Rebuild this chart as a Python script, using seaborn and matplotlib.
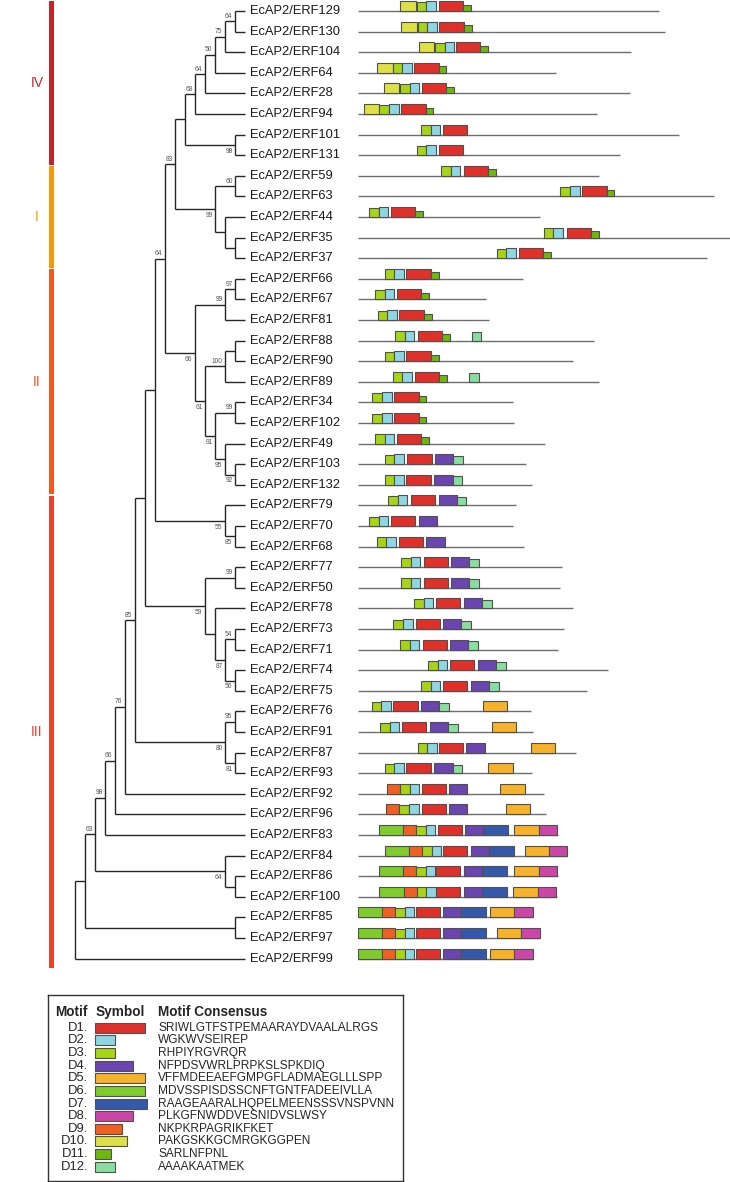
import numpy as np
import matplotlib
matplotlib.use('Agg')
import matplotlib.pyplot as plt
from matplotlib.patches import Rectangle
import seaborn as sns

sns.set_theme(style='white')
plt.rcParams['font.family'] = ['Liberation Sans', 'DejaVu Sans']

# motif definitions (legend)
MOTIFS = ['D1', 'D2', 'D3', 'D4', 'D5', 'D6', 'D7', 'D8', 'D9', 'D10', 'D11', 'D12']
CONSENSUS = ['SRIWLGTFSTPEMAARAYDVAALALRGS', 'WGKWVSEIREP', 'RHPIYRGVRQR',
             'NFPDSVWRLPRPKSLSPKDIQ', 'VFFMDEEAEFGMPGFLADMAEGLLLSPP',
             'MDVSSPISDSSCNFTGNTFADEEIVLLA', 'RAAGEAARALHQPELMEENSSSVNSPVNN',
             'PLKGFNWDDVESNIDVSLWSY', 'NKPKRPAGRIKFKET', 'PAKGSKKGCMRGKGGPEN',
             'SARLNFPNL', 'AAAAKAATMEK']
MOTIF_COLORS = ['#E0302A', '#8FD6E3', '#A6D416', '#6B45B0', '#F5B22A', '#7FCB2B',
                '#3559AA', '#CC46A7', '#F06020', '#DDE146', '#6CB80C', '#88DE9E']
# relative box height (significance) in the motif panel
MOTIF_HEIGHT = [1, 1, 0.95, 1, 1, 1, 1, 1, 1, 1, 0.65, 0.85]

# genes in tree order, protein length (aa) and motif start positions (aa)
GENES = ['129', '130', '104', '64', '28', '94', '101', '131', '59', '63', '44', '35', '37',
         '66', '67', '81', '88', '90', '89', '34', '102', '49', '103', '132',
         '79', '70', '68', '77', '50', '78', '73', '71', '74', '75', '76', '91', '87', '93',
         '92', '96', '83', '84', '86', '100', '85', '97', '99']
PROT_LEN = [346, 353, 314, 228, 313, 275, 369, 302, 277, 410, 209, 432, 401,
            190, 148, 151, 272, 247, 277, 179, 180, 215, 193, 200,
            182, 178, 191, 235, 232, 248, 237, 230, 288, 264, 199, 201, 251, 200,
            214, 216, 230, 241, 230, 229, 202, 210, 202]
HITS = [
    'D10:49 D3:68 D2:79 D1:93 D11:121',
    'D10:50 D3:69 D2:80 D1:94 D11:122',
    'D10:70 D3:89 D2:100 D1:113 D11:141',
    'D10:22 D3:40 D2:51 D1:65 D11:93',
    'D10:30 D3:49 D2:60 D1:74 D11:102',
    'D10:7 D3:25 D2:36 D1:50 D11:78',
    'D3:73 D2:84 D1:98',
    'D3:68 D2:79 D1:93',
    'D3:96 D2:107 D1:122 D11:150',
    'D3:233 D2:244 D1:258 D11:286',
    'D3:13 D2:24 D1:38 D11:66',
    'D3:214 D2:225 D1:240 D11:268',
    'D3:160 D2:171 D1:185 D11:213',
    'D3:31 D2:42 D1:56 D11:84',
    'D3:20 D2:31 D1:45 D11:73',
    'D3:23 D2:34 D1:48 D11:76',
    'D3:43 D2:54 D1:69 D11:97 D12:131',
    'D3:31 D2:42 D1:56 D11:84',
    'D3:40 D2:51 D1:66 D11:94 D12:128',
    'D3:17 D2:28 D1:42 D11:70',
    'D3:17 D2:28 D1:42 D11:70',
    'D3:20 D2:31 D1:45 D11:73',
    'D3:31 D2:42 D1:57 D4:89 D12:110',
    'D3:31 D2:42 D1:56 D4:88 D12:109',
    'D3:35 D2:46 D1:61 D4:93 D12:114',
    'D3:13 D2:24 D1:38 D4:70',
    'D3:22 D2:33 D1:47 D4:79',
    'D3:50 D2:61 D1:76 D4:107 D12:128',
    'D3:50 D2:61 D1:76 D4:107 D12:128',
    'D3:65 D2:76 D1:90 D4:122 D12:143',
    'D3:41 D2:52 D1:67 D4:98 D12:119',
    'D3:49 D2:60 D1:75 D4:106 D12:127',
    'D3:81 D2:92 D1:106 D4:138 D12:159',
    'D3:73 D2:84 D1:98 D4:130 D12:151',
    'D3:16 D2:27 D1:41 D4:73 D12:94 D5:144',
    'D3:26 D2:37 D1:51 D4:83 D12:104 D5:154',
    'D3:69 D2:80 D1:93 D4:125 D5:199',
    'D3:31 D2:42 D1:56 D4:88 D12:109 D5:150',
    'D9:34 D3:49 D2:60 D1:74 D4:105 D5:164',
    'D9:33 D3:48 D2:59 D1:74 D4:105 D5:170',
    'D6:24 D9:52 D3:67 D2:78 D1:92 D4:123 D7:144 D5:180 D8:208',
    'D6:31 D9:59 D3:74 D2:85 D1:98 D4:130 D7:151 D5:192 D8:220',
    'D6:24 D9:52 D3:67 D2:78 D1:90 D4:122 D7:143 D5:180 D8:208',
    'D6:25 D9:53 D3:68 D2:79 D1:90 D4:122 D7:143 D5:179 D8:207',
    'D6:0 D9:28 D3:43 D2:54 D1:67 D4:98 D7:119 D5:152 D8:180',
    'D6:0 D9:28 D3:43 D2:54 D1:67 D4:98 D7:119 D5:160 D8:188',
    'D6:0 D9:28 D3:43 D2:54 D1:67 D4:98 D7:119 D5:152 D8:180',
]

# subfamily groups
GROUPS = ['IV', 'I', 'II', 'III']
GROUP_FIRST = ['129', '59', '66', '79']
GROUP_LAST = ['131', '37', '132', '99']
GROUP_COLORS = ['#C0272D', '#F39A0C', '#EE5A22', '#E8422E']


def N(*kids, bs=None, below=False):
    return {'kids': list(kids), 'bs': bs, 'below': below}


# tree topology with bootstrap values
sub_iv = N(N(N(N(N(N('129', '130', bs=64), '104', bs=75), '64', bs=50), '28', bs=64), '94', bs=68),
           N('101', '131', bs=98, below=True))
sub_i = N(N('59', '63', bs=60), N('44', N('35', '37')), bs=99, below=True)
sub_ii = N(N(N('66', '67', bs=97), '81', bs=99),
           N(N(N('88', '90'), '89', bs=100),
             N(N('34', '102', bs=99), N('49', N('103', '132', bs=92, below=True), bs=95, below=True),
               bs=91, below=True), bs=61, below=True), bs=66, below=True)
clade_a = N(N(sub_iv, sub_i, bs=83), sub_ii, bs=64)
clade_b = N(clade_a, N('79', N('70', '68', bs=85, below=True), bs=55, below=True))
clade_59 = N(N('77', '50', bs=99),
             N('78', N(N('73', '71', bs=54), N('74', '75', bs=56, below=True), bs=87, below=True)),
             bs=59, below=True)
clade_80 = N(N('76', '91', bs=95), N('87', '93', bs=81, below=True), bs=80, below=True)
clade = N(N(clade_b, clade_59), clade_80, bs=85)
clade = N(clade, '92', bs=76)
clade = N(clade, '96', bs=66)
clade = N(clade, '83', bs=98)
clade = N(clade, N('84', N('86', '100'), bs=64, below=True), bs=63)
clade = N(clade, N('85', '97'))
tree = N(clade, '99')

row_of = {g: i for i, g in enumerate(GENES)}


def layout(node):
    if isinstance(node, str):
        return 0, row_of[node]
    pos = [layout(k) for k in node['kids']]
    node['h'] = max(p[0] for p in pos) + 1
    node['y'] = np.mean([p[1] for p in pos])
    node['pos'] = pos
    return node['h'], node['y']


layout(tree)

W, H = 730, 1182
fig = plt.figure(figsize=(W / 100, H / 100), dpi=100)
row_px, top_px = 20.6, 11
ylim = ((H - top_px) / row_px, -top_px / row_px)

# tree panel: x in node steps (10 px), tips at 0
split_px = 357.7
ax = fig.add_axes([0, 0, split_px / W, 1])
ax.set_xlim(-24.5, (split_px - 245) / 10)
ax.set_ylim(*ylim)
ax.axis('off')

line_kw = dict(color='#262626', lw=1.0, solid_capstyle='butt')


def draw(node):
    if isinstance(node, str):
        return
    x = -node['h']
    ys = [p[1] for p in node['pos']]
    ax.plot([x, x], [min(ys), max(ys)], **line_kw)
    for hc, yc in node['pos']:
        ax.plot([x, -hc], [yc, yc], **line_kw)
    if node['bs'] is not None:
        dy = 0.31 if node['below'] else -0.24
        ax.text(x - 0.25, node['y'] + dy, str(node['bs']), ha='right', va='center',
                fontsize=4.8, color='#555555')
    for k in node['kids']:
        draw(k)


draw(tree)

for i, g in enumerate(GENES):
    ax.text(0.45, i, 'EcAP2/ERF' + g, ha='left', va='center', fontsize=9.3, color='#1a1a1a')

for name, first, last, col in zip(GROUPS, GROUP_FIRST, GROUP_LAST, GROUP_COLORS):
    r0, r1 = row_of[first], row_of[last]
    ax.add_patch(Rectangle((-19.6, r0 - 0.47), 0.5, r1 - r0 + 0.94, color=col, lw=0))
    ax.text(-20.8, (r0 + r1) / 2, name, ha='center', va='center', fontsize=10, color=col)

# motif panel: x in amino acids
aa_px = 0.87
mx = fig.add_axes([split_px / W, 0, (W - split_px) / W, 1], sharey=ax)
mx.set_xlim(0, (W - split_px) / aa_px)
mx.set_ylim(*ylim)
mx.axis('off')

box_h = 10 / row_px
for i, (L, hits) in enumerate(zip(PROT_LEN, HITS)):
    mx.plot([0, L], [i, i], color='#6e6e6e', lw=1.0, solid_capstyle='butt')
    for hit in hits.split():
        m, s = hit.split(':')
        k = MOTIFS.index(m)
        hgt = box_h * MOTIF_HEIGHT[k]
        mx.add_patch(Rectangle((int(s), i - hgt), len(CONSENSUS[k]), hgt,
                               facecolor=MOTIF_COLORS[k], edgecolor='#505050', lw=0.8, zorder=3))

# legend box
lx0, lx1, ly0, ly1 = 48.3, 402.7, 995, 1181
lax = fig.add_axes([lx0 / W, 1 - ly1 / H, (lx1 - lx0) / W, (ly1 - ly0) / H])
lax.set_xlim(0, lx1 - lx0)
lax.set_ylim(ly1 - ly0, 0)
lax.set_xticks([])
lax.set_yticks([])
lax.set_facecolor('white')
for sp in lax.spines.values():
    sp.set_visible(True)
    sp.set_color('#333333')
    sp.set_linewidth(1.0)

lax.text(6.7, 16.7, 'Motif', fontsize=9.8, fontweight='bold', va='center', ha='left')
lax.text(47.7, 16.7, 'Symbol', fontsize=9.8, fontweight='bold', va='center', ha='left')
lax.text(110, 16.7, 'Motif Consensus', fontsize=9.8, fontweight='bold', va='center', ha='left')
for k, (m, seq, col) in enumerate(zip(MOTIFS, CONSENSUS, MOTIF_COLORS)):
    y = 32.7 + 12.64 * k
    lax.text(40, y, m + '.', fontsize=9.4, va='center', ha='right')
    lax.add_patch(Rectangle((46.7, y - 5), len(seq) * 1.8, 10, facecolor=col,
                            edgecolor='#505050', lw=0.8))
    lax.text(110, y, seq, fontsize=8.6, va='center', ha='left')

fig.savefig('out.png', dpi=100)
